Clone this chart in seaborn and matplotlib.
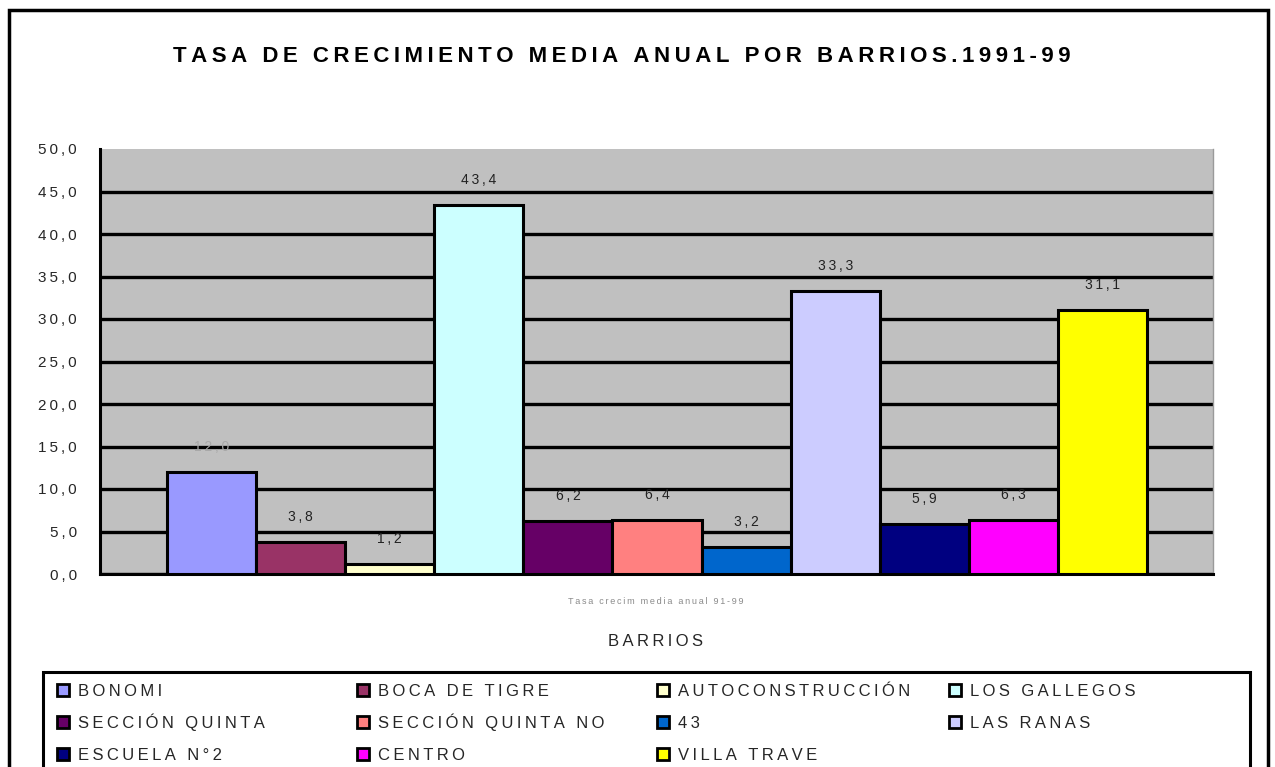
#import necessary libraries
import numpy as np
import pandas as pd
import matplotlib
matplotlib.use("Agg")
import matplotlib.pyplot as plt
from matplotlib.patches import Rectangle
import seaborn as sns

#chart data
barrios = ["BONOMI", "BOCA DE TIGRE", "AUTOCONSTRUCCIÓN", "LOS GALLEGOS",
           "SECCIÓN QUINTA", "SECCIÓN QUINTA NO", "43", "LAS RANAS",
           "ESCUELA N°2", "CENTRO", "VILLA TRAVE"]
tasa = [12.0, 3.8, 1.2, 43.4, 6.2, 6.4, 3.2, 33.3, 5.9, 6.3, 31.1]
colores = ["#9999FF", "#993366", "#FFFFCC", "#CCFFFF", "#660066", "#FF8080",
           "#0066CC", "#CCCCFF", "#000080", "#FF00FF", "#FFFF00"]
y_ticks = [0, 5, 10, 15, 20, 25, 30, 35, 40, 45, 50]

df = pd.DataFrame({"Barrio": barrios, "Tasa": tasa})

#wide letter spacing like the old excel export
def spaced(s, n=1):
    gap = "\u2009" * n
    return (gap + " " + gap).join(gap.join(w) for w in s.split(" "))

def coma(v):
    return f"{v:.1f}".replace(".", ",")

sns.set_style("white")
plt.rcParams["font.family"] = ["Liberation Sans", "DejaVu Sans"]

W, H = 1275, 767
fig = plt.figure(figsize=(12.75, 7.67), dpi=100)
ax = fig.add_axes([100/W, 1-574/H, 1113/W, 425/H])
ax.set_facecolor("#C0C0C0")

sns.barplot(data=df, x="Barrio", y="Tasa", hue="Barrio", palette=colores,
            width=1.0, edgecolor="black", linewidth=2.2, legend=False,
            saturation=1, ax=ax, zorder=3)

#bars span 167..1146 px inside an axis of 100..1213 px
ax.set_ylim(0, 50)
ax.set_xlim(-1.252, 11.24)
ax.set_yticks(y_ticks)
ax.set_yticklabels([spaced(coma(v)) for v in y_ticks], fontsize=11)
ax.set_xticks([])
ax.yaxis.grid(True, color="black", linewidth=2.4, zorder=0)
ax.get_ygridlines()[-1].set_visible(False)
ax.set_axisbelow(True)
ax.tick_params(axis="y", direction="out", length=6.5, width=2, color="black", pad=10)
ax.spines["top"].set_visible(False)
ax.spines["right"].set_color("#9a9a9a")
ax.spines["right"].set_linewidth(1)
for s in ["left", "bottom"]:
    ax.spines[s].set_color("black")
    ax.spines[s].set_linewidth(2.2)
ax.set_xlabel("")
ax.set_ylabel("")

#value labels above the bars
for i, v in enumerate(tasa):
    col = "#a8a8a8" if i == 0 else "#222222"
    ax.annotate(spaced(coma(v)), (i, v), xytext=(0, 18),
                textcoords="offset points", ha="center", va="center",
                fontsize=10, color=col)

#titles
fig.text(622/W, 1-57/H,
         spaced("TASA DE CRECIMIENTO MEDIA ANUAL POR BARRIOS.1991-99"),
         ha="center", va="center", fontsize=16, fontweight="bold",
         color="black")
fig.text(656/W, 1-602/H, spaced("Tasa crecim media anual 91-99"), ha="center",
         va="center", fontsize=6.5, color="#8a8a8a")
fig.text(656/W, 1-642/H, spaced("BARRIOS"), ha="center", va="center",
         fontsize=12)

#outer frame and legend box
fig.patches.append(Rectangle((9/W, -0.05), 1259/W, 1.05 - 10/H,
                             transform=fig.transFigure, fill=False,
                             edgecolor="black", linewidth=2.5))
fig.patches.append(Rectangle((43/W, -0.05), 1207/W, 0.05 + 95/H,
                             transform=fig.transFigure, fill=False,
                             edgecolor="black", linewidth=2.2))

#legend: 4 equal columns filled row by row, swatch + label on a shared baseline
ncol = 4
col_x = [57, 357, 657, 949]
row_y = [690, 722, 754]
sw = 12
for i, (b, c) in enumerate(zip(barrios, colores)):
    r, k = divmod(i, ncol)
    x0, y0 = col_x[k], row_y[r]
    fig.patches.append(Rectangle((x0/W, 1-(y0+sw/2)/H), sw/W, sw/H,
                                 transform=fig.transFigure, facecolor=c,
                                 edgecolor="black", linewidth=2))
    fig.text((x0+sw+9)/W, 1-(y0+6)/H, spaced(b), ha="left",
             va="baseline", fontsize=12)

fig.savefig("out.png", dpi=100)
